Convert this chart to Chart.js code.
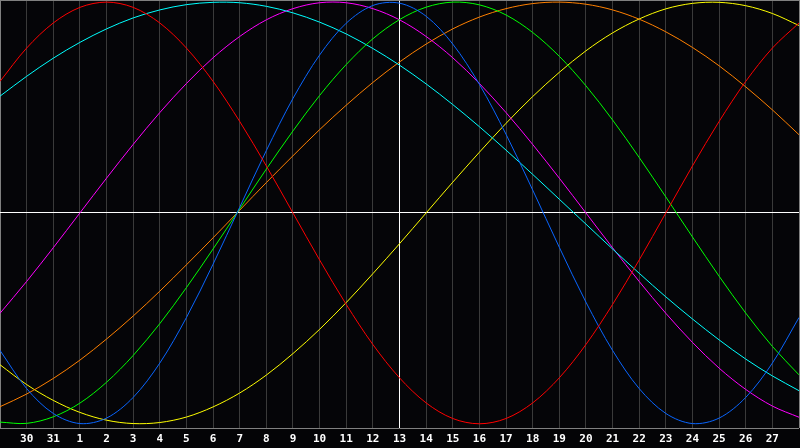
<!DOCTYPE html>
<html>
<head>
<meta charset="utf-8">
<script src="https://cdn.jsdelivr.net/npm/chart.js@4.4.1/dist/chart.umd.min.js"></script>
<style>
  html, body { margin: 0; padding: 0; background: #040406; }
  #wrap { width: 800px; height: 448px; }
</style>
</head>
<body>
<div id="wrap"><canvas id="c" width="800" height="448"></canvas></div>
<script>
// days along the bottom (first and last one sit on the frame and get no label)
var days = [29, 30, 31, 1, 2, 3, 4, 5, 6, 7, 8, 9, 10, 11, 12, 13, 14, 15, 16, 17, 18, 19, 20, 21, 22, 23, 24, 25, 26, 27, 28]
var todayIndex = 15  // day 13, white line

// curve values, one per day (-1 .. 1)
var redVals = [0.624, 0.782, 0.901, 0.975, 1.000, 0.975, 0.901, 0.782, 0.624, 0.434, 0.223, 0.000, -0.223, -0.434, -0.624, -0.782, -0.901, -0.975, -1.000, -0.975, -0.901, -0.782, -0.624, -0.434, -0.223, 0.000, 0.223, 0.434, 0.624, 0.782, 0.901]
var blueVals = [-0.652, -0.833, -0.951, -0.999, -0.973, -0.875, -0.712, -0.496, -0.243, 0.027, 0.296, 0.543, 0.749, 0.900, 0.984, 0.995, 0.933, 0.801, 0.610, 0.373, 0.109, -0.163, -0.423, -0.652, -0.833, -0.951, -0.999, -0.973, -0.875, -0.712, -0.496]
var greenVals = [-0.992, -0.998, -0.967, -0.902, -0.803, -0.676, -0.525, -0.354, -0.171, 0.019, 0.208, 0.389, 0.557, 0.704, 0.826, 0.917, 0.976, 1.000, 0.987, 0.939, 0.856, 0.743, 0.603, 0.441, 0.263, 0.076, -0.114, -0.300, -0.475, -0.633, -0.768]
var cyanVals = [0.554, 0.648, 0.734, 0.809, 0.873, 0.925, 0.963, 0.988, 0.999, 0.997, 0.980, 0.949, 0.905, 0.849, 0.780, 0.701, 0.612, 0.514, 0.409, 0.298, 0.183, 0.065, -0.053, -0.171, -0.286, -0.398, -0.503, -0.602, -0.693, -0.773, -0.843]
var magentaVals = [-0.476, -0.325, -0.165, 0.000, 0.165, 0.325, 0.476, 0.614, 0.736, 0.837, 0.916, 0.969, 0.997, 0.997, 0.969, 0.916, 0.837, 0.736, 0.614, 0.476, 0.325, 0.165, 0.000, -0.165, -0.325, -0.476, -0.614, -0.736, -0.837, -0.916, -0.969]
var orangeVals = [-0.919, -0.859, -0.785, -0.698, -0.598, -0.489, -0.371, -0.246, -0.118, 0.013, 0.144, 0.271, 0.395, 0.511, 0.619, 0.716, 0.801, 0.873, 0.929, 0.969, 0.993, 1.000, 0.990, 0.963, 0.919, 0.859, 0.785, 0.698, 0.598, 0.489, 0.371]
var yellowVals = [-0.720, -0.814, -0.889, -0.946, -0.983, -0.999, -0.994, -0.968, -0.920, -0.854, -0.769, -0.667, -0.552, -0.425, -0.288, -0.146, 0.000, 0.146, 0.288, 0.425, 0.552, 0.667, 0.769, 0.854, 0.920, 0.968, 0.994, 0.999, 0.983, 0.946, 0.889]

var bg_color = '#050508'
var grid_color = '#3a3a3a'
var frame_color = '#808080'

const bgPlugin = {
    id: 'bgFill',
    beforeDraw: (chart) => {
        const {ctx} = chart
        ctx.save()
        ctx.fillStyle = '#040406'
        ctx.fillRect(0, 0, chart.width, chart.height)
        const a = chart.chartArea
        ctx.fillStyle = bg_color
        ctx.fillRect(a.left, a.top, a.right - a.left, a.bottom - a.top)
        ctx.restore()
    }
}

function line(label, data, color) {
    return {
        label: label,
        data: data,
        borderColor: color,
        borderWidth: 1,
        pointRadius: 0,
        tension: 0.33,
        fill: false
    }
}

var config = {
    type: 'line',
    data: {
        labels: days,
        datasets: [
            line('red', redVals, '#ff0000'),
            line('blue', blueVals, '#0a66ff'),
            line('green', greenVals, '#00ff00'),
            line('cyan', cyanVals, '#00ffff'),
            line('magenta', magentaVals, '#ff00ff'),
            line('orange', orangeVals, '#ff8000'),
            line('yellow', yellowVals, '#ffff00')
        ]
    },
    options: {
        responsive: false,
        animation: false,
        devicePixelRatio: 1,
        layout: { padding: { left: 0, right: 1, top: 0, bottom: 0 } },
        plugins: {
            legend: { display: false },
            tooltip: { enabled: false }
        },
        scales: {
            x: {
                type: 'category',
                offset: false,
                border: { display: false },
                afterFit: function(scale) {
                    // no side padding, labels strip 20px high
                    scale.paddingLeft = 0
                    scale.paddingRight = 0
                    scale.height = 20
                },
                grid: {
                    drawTicks: false,
                    lineWidth: 1,
                    color: function(ctx) {
                        if (ctx.index === todayIndex) return '#ffffff'
                        if (ctx.index === 0 || ctx.index === days.length - 1) return frame_color
                        return grid_color
                    }
                },
                ticks: {
                    autoSkip: false,
                    maxRotation: 0,
                    padding: 5,
                    color: '#ffffff',
                    font: { family: 'DejaVu Sans Mono', size: 11, weight: 'bold' },
                    callback: function(value, index) {
                        if (index === 0 || index === days.length - 1) return ''
                        return String(days[index])
                    }
                }
            },
            y: {
                min: -1.02,
                max: 1.01,
                border: { display: false },
                afterFit: function(scale) {
                    scale.width = 0
                },
                afterBuildTicks: function(scale) {
                    scale.ticks = [{value: -1.02}, {value: 0}, {value: 1.01}]
                },
                grid: {
                    drawTicks: false,
                    color: function(ctx) {
                        if (ctx.tick && ctx.tick.value === 0) return '#ffffff'
                        return frame_color
                    }
                },
                ticks: { display: false }
            }
        }
    },
    plugins: [bgPlugin]
}

var chart = new Chart(document.getElementById('c'), config)
</script>
</body>
</html>
